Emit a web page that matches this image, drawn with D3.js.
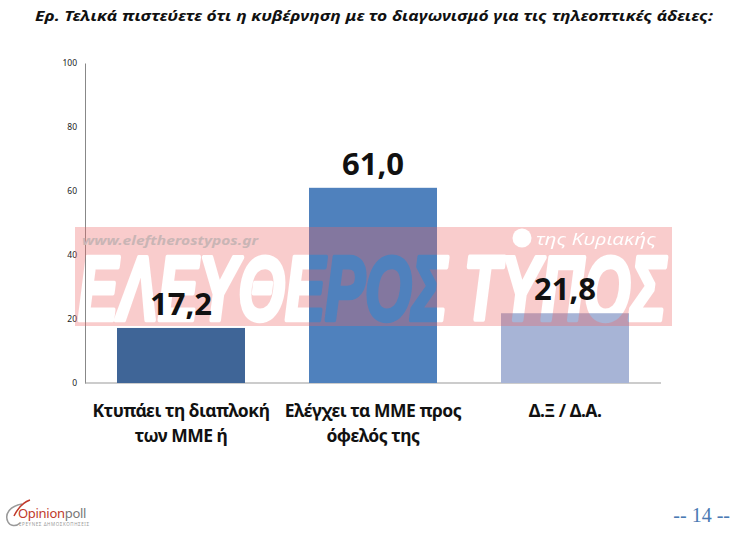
<!DOCTYPE html>
<html><head><meta charset="utf-8">
<script src="https://cdn.jsdelivr.net/npm/d3@7"></script>
<style>body{margin:0;background:#fff}svg{display:block}</style>
</head><body>
<script>
const categories = [["Κτυπάει τη διαπλοκή","των ΜΜΕ ή"],["Ελέγχει τα ΜΜΕ προς","όφελός της"],["Δ.Ξ / Δ.Α."]];
const values = [17.2, 61.0, 21.8];
const valueLabels = ["17,2","61,0","21,8"];
const barColors = ["#3F6597","#4F81BD","#A7B4D6"];
const tickValues = [0,20,40,60,80,100];
const title = "Ερ. Τελικά πιστεύετε ότι η κυβέρνηση με το διαγωνισμό για τις τηλεοπτικές άδειες:";

const W=747,H=552;
const svg=d3.select("body").append("svg").attr("width",W).attr("height",H);
const font="'Noto Sans', 'Open Sans', sans-serif";

const x=d3.scaleBand().domain(d3.range(values.length)).range([85,661]).paddingInner(1/3).paddingOuter(1/6);
const y=d3.scaleLinear().domain([0,100]).range([383,63]);

svg.append("text").attr("x",374).attr("y",21).attr("text-anchor","middle")
  .attr("font-family",font).attr("font-weight","bold").attr("font-style","italic")
  .attr("font-size",15).attr("fill","#111").attr("textLength",678).attr("lengthAdjust","spacingAndGlyphs").text(title);

// axis
const ax=svg.append("g").attr("transform","translate(85,0)")
  .call(d3.axisLeft(y).tickValues(tickValues).tickSize(0).tickPadding(8));
ax.select(".domain").attr("stroke","#888");
ax.selectAll("text").attr("font-family",font).attr("font-size",8.5).attr("fill","#222");
svg.append("line").attr("x1",85).attr("x2",661).attr("y1",y(0)).attr("y2",y(0)).attr("stroke","#999");

// bars
svg.selectAll("rect.bar").data(values).join("rect").attr("class","bar")
  .attr("x",(d,i)=>x(i)).attr("width",x.bandwidth())
  .attr("y",d=>y(d)).attr("height",d=>y(0)-y(d)).attr("fill",(d,i)=>barColors[i]);

// watermark with knockout letters
const defs=svg.append("defs");
const mask=defs.append("mask").attr("id","wm");
mask.append("rect").attr("x",0).attr("y",0).attr("width",W).attr("height",H).attr("fill","#fff");
mask.append("text").attr("x",78).attr("y",320)
  .attr("font-family","'Liberation Sans', Arial, sans-serif").attr("font-weight","bold").attr("font-style","italic")
  .attr("font-size",90).attr("textLength",588).attr("lengthAdjust","spacingAndGlyphs")
  .attr("fill","#000").attr("stroke","#000").attr("stroke-width",4.5).attr("stroke-linejoin","round").text("ΕΛΕΥΘΕΡΟΣ ΤΥΠΟΣ");
mask.append("circle").attr("cx",522).attr("cy",238).attr("r",9.5).attr("fill","#000");
mask.append("text").attr("x",536).attr("y",245).attr("font-family",font).attr("font-style","italic")
  .attr("font-size",17).attr("fill","#000").attr("textLength",120).attr("lengthAdjust","spacingAndGlyphs").text("της Κυριακής");
svg.append("rect").attr("x",75).attr("y",227).attr("width",597).attr("height",99)
  .attr("fill","rgb(238,100,100)").attr("fill-opacity",0.33).attr("mask","url(#wm)");
svg.append("text").attr("x",82).attr("y",245).attr("font-family",font).attr("font-weight","bold").attr("font-style","italic")
  .attr("font-size",12.5).attr("fill","#C9B5B5").attr("textLength",176).attr("lengthAdjust","spacingAndGlyphs").text("www.eleftherostypos.gr");

// value labels
svg.selectAll("text.val").data(values).join("text").attr("class","val")
  .attr("x",(d,i)=>x(i)+x.bandwidth()/2).attr("y",d=>y(d)-13).attr("text-anchor","middle")
  .attr("font-family","'Open Sans', sans-serif").attr("font-weight","bold").attr("font-size",31)
  .attr("fill","#111").text((d,i)=>valueLabels[i]);

// category labels
categories.forEach((lines,i)=>{
  lines.forEach((t,j)=>{
    svg.append("text").attr("x",x(i)+x.bandwidth()/2).attr("y",417+j*25).attr("text-anchor","middle")
      .attr("font-family",font).attr("font-weight","bold").attr("font-size",17.5).attr("fill","#111")
      .attr("letter-spacing",-0.5).text(t);
  });
});

// footer
const logo=svg.append("g");
logo.append("path").attr("d","M22,504 C10,506 4,514 8,522 C10,526 16,527 20,523").attr("fill","none").attr("stroke","#999").attr("stroke-width",1.5);
logo.append("path").attr("d","M14,516 C18,508 24,502 30,500").attr("fill","none").attr("stroke","#C0392B").attr("stroke-width",1.5);
logo.append("text").attr("x",18).attr("y",518).attr("font-family",font).attr("font-size",13).attr("fill","#C0392B")
  .attr("letter-spacing",-0.3).text("Opinion").append("tspan").attr("fill","#777").text("poll");
logo.append("text").attr("x",19).attr("y",526).attr("font-family",font).attr("font-size",4.5).attr("fill","#999")
  .attr("textLength",70).text("ΕΡΕΥΝΕΣ ΔΗΜΟΣΚΟΠΗΣΕΙΣ");
svg.append("text").attr("x",730).attr("y",522).attr("text-anchor","end").attr("font-family","'Liberation Serif', serif")
  .attr("font-size",20).attr("fill","#4A7AB3").text("-- 14 --");
</script>
</body></html>
